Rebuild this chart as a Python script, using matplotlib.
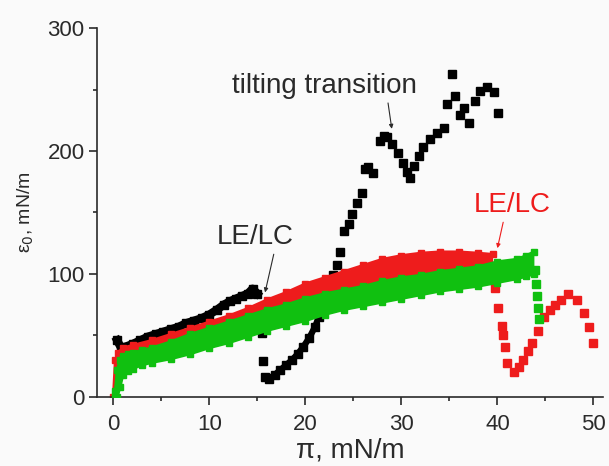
import matplotlib
matplotlib.use('Agg')
import matplotlib.pyplot as plt

# valores (pi em mN/m, epsilon_0 em mN/m)
preto_banda_x = [0.4, 0.8, 1.3, 2.0, 2.8, 3.6, 4.4, 5.2, 6.0, 6.8, 7.6, 8.4, 9.2, 10.0,
                 10.8, 11.5, 12.2, 12.8, 13.4, 14.0, 14.5, 15.0]
preto_banda_y = [46, 40, 41, 43, 46, 49, 51, 53, 55, 57, 60, 62, 64, 67,
                 71, 75, 78, 80, 82, 84, 88, 84]
preto_curva_x = [15.8, 16.2, 16.8, 17.4, 18.0, 18.6, 19.2, 19.8, 20.4, 21.0, 21.4]
preto_curva_y = [16, 15, 18, 22, 26, 30, 35, 41, 48, 57, 65]
preto_pts_x = [15.5, 15.6, 22.9, 23.3, 23.6, 24.0, 24.5, 24.9, 25.4, 25.9, 26.2, 26.5, 27.0,
               27.8, 28.2, 28.5, 29.0, 29.6, 30.2, 30.6, 30.9, 31.3, 31.8, 32.3, 33.0,
               33.7, 34.4, 34.8, 35.3, 35.6, 36.1, 36.5, 37.0, 37.7, 38.2, 38.9, 39.6, 40.1]
preto_pts_y = [52, 29, 99, 107, 118, 135, 141, 149, 158, 166, 185, 187, 182,
               208, 212, 211, 206, 198, 190, 183, 178, 188, 196, 203, 210,
               215, 219, 238, 263, 245, 229, 235, 223, 241, 249, 252, 248, 231]

verm_x = [0.0, 0.2, 0.5, 1, 2, 4, 6, 8, 10, 12, 14, 16, 18, 20, 22, 24, 26, 28, 30,
          32, 34, 36, 38, 39.5]
verm_topo = [0, 30, 36, 40, 42, 46, 51, 56, 61, 66, 72, 79, 85, 92, 97, 102, 107, 112,
             115, 117, 118, 118, 117, 116]
verm_base = [0, 5, 15, 25, 30, 33, 38, 43, 48, 53, 58, 63, 67, 71, 75, 79, 83, 87,
             90, 93, 96, 98, 100, 102]
verm_cauda_x = [39.8, 40.1, 40.5, 40.6, 40.8, 41.0, 41.7, 42.2, 42.7, 43.2, 43.6, 44.2,
                44.8, 45.5, 46.0, 46.6, 47.4, 48.3, 49.0, 49.5, 50.0]
verm_cauda_y = [89, 72, 58, 50, 41, 28, 20, 24, 30, 37, 44, 54,
                65, 71, 75, 79, 84, 79, 68, 57, 44]

verde_x = [0.2, 0.4, 0.7, 1, 1.5, 2, 3, 4, 6, 8, 10, 12, 14, 16, 18, 20, 22, 24, 26,
           28, 30, 32, 34, 36, 38, 40, 42, 43, 43.8]
verde_topo = [5, 22, 30, 33, 35, 36, 38, 40, 45, 51, 56, 61, 66, 71, 75, 80, 84, 87, 90,
              94, 97, 99, 102, 104, 106, 110, 112, 115, 118]
verde_base = [0, 0, 8, 18, 21, 23, 26, 28, 31, 35, 40, 44, 49, 54, 58, 62, 67, 71, 74,
              77, 80, 83, 86, 88, 90, 93, 96, 98, 100]
verde_cauda_x = [43.9, 44.0, 44.1, 44.2, 44.3]
verde_cauda_y = [103, 92, 82, 72, 63]

vermelho = '#ee1c1c'
verde = '#10c010'
cinza = '#2a2a2a'

plt.rcParams['font.family'] = ['Liberation Sans', 'DejaVu Sans']

fig = plt.figure(figsize=(6.09, 4.66), dpi=100, facecolor='#fafafa')
ax = fig.add_axes([0.1593, 0.1481, 0.8309, 0.7918])
ax.set_facecolor('#fafafa')

# serie preta
ax.plot(preto_banda_x, preto_banda_y, color='black', lw=6, marker='s', ms=6, zorder=1)
ax.plot(preto_curva_x, preto_curva_y, color='black', lw=4.5, marker='s', ms=5.5, zorder=1)
ax.plot(preto_pts_x, preto_pts_y, 's', color='black', ms=5.5, zorder=1)

# serie vermelha
ax.fill_between(verm_x, verm_base, verm_topo, color=vermelho, lw=0, zorder=2)
ax.plot(verm_x, verm_topo, color=vermelho, lw=2, marker='s', ms=4, zorder=2)
ax.plot(verm_cauda_x, verm_cauda_y, 's', color=vermelho, ms=5.5, zorder=2)

# serie verde
ax.fill_between(verde_x, verde_base, verde_topo, color=verde, lw=0, zorder=3)
ax.plot(verde_x, verde_topo, color=verde, lw=2, marker='s', ms=4, zorder=3)
ax.plot(verde_x, verde_base, color=verde, lw=2, marker='s', ms=4, zorder=3)
ax.plot(verde_cauda_x, verde_cauda_y, 's', color=verde, ms=5.5, zorder=3)

ax.set_xlim(-1.7, 51)
ax.set_ylim(0, 300)
ax.set_xticks([0, 10, 20, 30, 40, 50])
ax.set_xticks([5, 15, 25, 35, 45], minor=True)
ax.set_yticks([0, 100, 200, 300])
ax.set_yticks([50, 150, 250], minor=True)
for lado in ['top', 'right']:
    ax.spines[lado].set_visible(False)
for lado in ['left', 'bottom']:
    ax.spines[lado].set_color(cinza)
    ax.spines[lado].set_linewidth(1.2)
ax.tick_params(which='major', length=6, width=1.2, color=cinza, labelsize=16,
               labelcolor=cinza)
ax.tick_params(axis='x', which='major', pad=6)
ax.tick_params(axis='y', which='major', pad=3)
ax.tick_params(which='minor', length=3, width=1.2, color=cinza)

ax.set_xlabel('π, mN/m', fontsize=20, color=cinza, labelpad=2)
ax.set_ylabel('ε$_0$, mN/m', fontsize=14, color=cinza, labelpad=8)

# anotacoes
ax.annotate('tilting transition', xy=(29.0, 218), xytext=(22.0, 253),
            ha='center', va='center', fontsize=20, color=cinza,
            arrowprops=dict(arrowstyle='-|>', color=cinza, lw=0.8, mutation_scale=6,
                            shrinkA=1, shrinkB=0, relpos=(0.84, 0.0)))
ax.annotate('LE/LC', xy=(15.8, 85), xytext=(14.8, 130),
            ha='center', va='center', fontsize=20, color=cinza,
            arrowprops=dict(arrowstyle='-|>', color=cinza, lw=0.8, mutation_scale=6,
                            shrinkA=1, shrinkB=0, relpos=(0.75, 0.0)))
ax.annotate('LE/LC', xy=(40.0, 121), xytext=(41.5, 156),
            ha='center', va='center', fontsize=20, color=vermelho,
            arrowprops=dict(arrowstyle='-|>', color=vermelho, lw=0.8, mutation_scale=6,
                            shrinkA=1, shrinkB=0, relpos=(0.4, 0.0)))

fig.savefig('out.png', dpi=100, facecolor=fig.get_facecolor())
